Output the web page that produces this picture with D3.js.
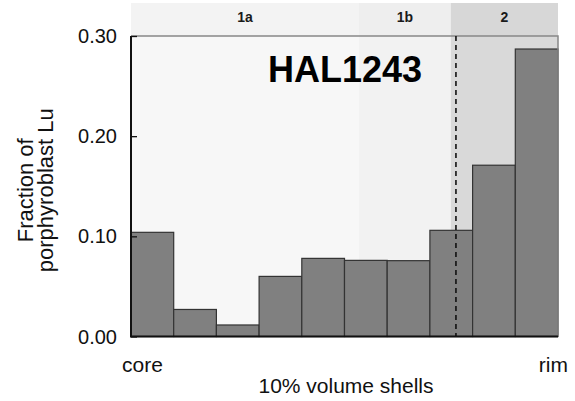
<!DOCTYPE html>
<html>
<head>
<meta charset="utf-8">
<script src="https://cdn.jsdelivr.net/npm/d3@7"></script>
<style>
  html, body { margin: 0; padding: 0; background: #fff; }
  svg { display: block; font-family: "Liberation Sans", Arial, Helvetica, sans-serif; }
</style>
</head>
<body>
<svg id="chart" width="575" height="401"></svg>
<script>
// ---- data ----
const shells = [1, 2, 3, 4, 5, 6, 7, 8, 9, 10];
const fractions = [0.104, 0.027, 0.0115, 0.060, 0.078, 0.076, 0.0757, 0.106, 0.171, 0.287];
const yTicks = [0.00, 0.10, 0.20, 0.30];
const zoneNames = ["1a", "1b", "2"];
const zoneStart = [0, 5.34, 7.49];
const zoneEnd = [5.34, 7.49, 10];
const zonePlotFill = ["#f7f7f7", "#f2f2f2", "#d9d9d9"];
const zoneHeadFill = ["#f3f3f3", "#eeeeee", "#d7d7d7"];
const dashedAt = 7.61;
const sampleName = "HAL1243";
const xEndLabels = ["core", "rim"];
const xTitle = "10% volume shells";
const yTitle = ["Fraction of", "porphyroblast Lu"];

// ---- layout ----
const svg = d3.select("#chart");
const L = 131, R = 558, T = 36, B = 336.5;
const x = d3.scaleLinear().domain([0, 10]).range([L, R]);
const y = d3.scaleLinear().domain([0, 0.30]).range([B, T]);

// header band
const headTop = 3;
svg.selectAll("rect.head").data(zoneNames).enter().append("rect")
  .attr("x", (d, i) => x(zoneStart[i]))
  .attr("y", headTop)
  .attr("width", (d, i) => x(zoneEnd[i]) - x(zoneStart[i]))
  .attr("height", T - headTop)
  .attr("fill", (d, i) => zoneHeadFill[i]);
svg.selectAll("text.head").data(zoneNames).enter().append("text")
  .attr("x", (d, i) => (x(zoneStart[i]) + x(zoneEnd[i])) / 2)
  .attr("y", 22)
  .attr("text-anchor", "middle")
  .attr("font-size", 14)
  .attr("font-weight", "bold")
  .attr("fill", "#1a1a1a")
  .text(d => d);

// plot zone backgrounds
svg.selectAll("rect.zone").data(zoneNames).enter().append("rect")
  .attr("x", (d, i) => x(zoneStart[i]))
  .attr("y", T)
  .attr("width", (d, i) => x(zoneEnd[i]) - x(zoneStart[i]))
  .attr("height", B - T)
  .attr("fill", (d, i) => zonePlotFill[i]);

// title
svg.append("text")
  .attr("x", 345).attr("y", 82)
  .attr("text-anchor", "middle")
  .attr("font-size", 36)
  .attr("font-weight", "bold")
  .attr("fill", "#000")
  .text(sampleName);

// bars
svg.selectAll("rect.bar").data(shells).enter().append("rect")
  .attr("x", (d) => x(d - 1))
  .attr("y", (d, i) => y(fractions[i]))
  .attr("width", x(1) - x(0))
  .attr("height", (d, i) => y(0) - y(fractions[i]))
  .attr("fill", "#808080")
  .attr("stroke", "#333")
  .attr("stroke-width", 1.2);

// frame top/right (gray)
svg.append("path")
  .attr("d", `M${L},${T}H${R}V${B}`)
  .attr("fill", "none")
  .attr("stroke", "#888")
  .attr("stroke-width", 1.5);

// dashed line
svg.append("line")
  .attr("x1", x(dashedAt)).attr("x2", x(dashedAt))
  .attr("y1", T).attr("y2", B)
  .attr("stroke", "#111")
  .attr("stroke-width", 1.6)
  .attr("stroke-dasharray", "5,4");

// y axis
const yAxis = d3.axisRight(y).tickValues(yTicks).tickSize(6).tickFormat("");
const yg = svg.append("g").attr("transform", `translate(${L},0)`).call(yAxis);
yg.select(".domain").remove();
yg.selectAll(".tick line").attr("stroke", "#111").attr("stroke-width", 1.3);
svg.selectAll("text.ytick").data(yTicks).enter().append("text")
  .attr("x", 117)
  .attr("y", d => y(d) + 7)
  .attr("text-anchor", "end")
  .attr("font-size", 20)
  .attr("fill", "#111")
  .text(d => d3.format(".2f")(d));

// axes lines (black left & bottom)
svg.append("path")
  .attr("d", `M${L},${T}V${B}H${R}`)
  .attr("fill", "none")
  .attr("stroke", "#111")
  .attr("stroke-width", 2);

// x labels
svg.append("text").attr("x", 122).attr("y", 372)
  .attr("font-size", 21).attr("fill", "#111").text(xEndLabels[0]);
svg.append("text").attr("x", 568).attr("y", 372).attr("text-anchor", "end")
  .attr("font-size", 21).attr("fill", "#111").text(xEndLabels[1]);
svg.append("text").attr("x", 346).attr("y", 393).attr("text-anchor", "middle")
  .attr("font-size", 21).attr("fill", "#111").text(xTitle);

// y title
const yc = (T + B) / 2 + 4;
const yt = svg.append("text")
  .attr("transform", `translate(0,${yc}) rotate(-90)`)
  .attr("text-anchor", "middle")
  .attr("font-size", 22)
  .attr("fill", "#111");
yt.append("tspan").attr("x", 0).attr("y", 33).text(yTitle[0]);
yt.append("tspan").attr("x", 0).attr("y", 53).text(yTitle[1]);
</script>
</body>
</html>
